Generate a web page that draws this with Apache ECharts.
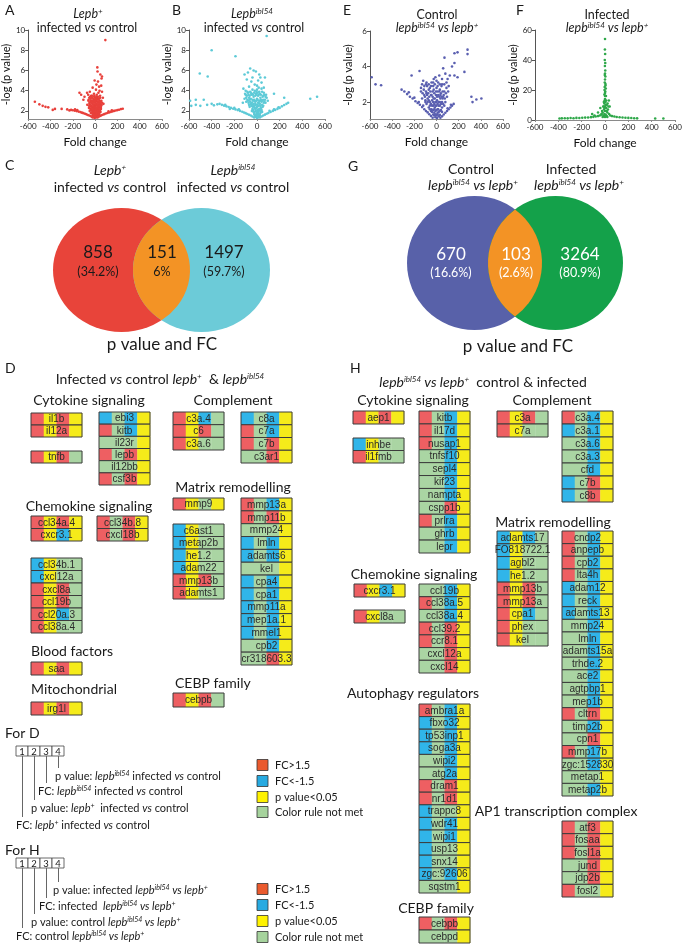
<!DOCTYPE html>
<html><head><meta charset="utf-8">
<script src="https://cdn.jsdelivr.net/npm/echarts@6/dist/echarts.min.js"></script>
<style>html,body{margin:0;padding:0;background:#fff}#c{width:685px;height:946px}</style>
</head><body><div id="c"></div><script>
// ---------------- DATA ----------------
const xTicks = [-600,-400,-200,0,200,400,600];
const yTicksAB = [2,4,6,8,10];
const yTicksE = [2,4,6];
const yTicksF = [0,20,40,60];

const volcanoA = [
[92,9.0],[20,6.3],[22,5.9],[47,5.6],[62,5.4],[58,5.2],[26,4.9],[-4,5.0],[12,4.6],[55,4.5],[36,4.4],[40,4.0],[-22,4.3],[8,4.1],[-47,3.9],[-72,3.8],[-140,3.8],[-125,3.6],[-62,3.6],[-95,3.4],[-105,3.1],[62,3.9],[30,3.8],[-10,3.7],[45,3.5],[-35,3.5],[70,3.3],[15,3.6],
[-40,3.2],[-30,3.0],[-20,2.9],[-10,3.1],[0,3.3],[10,3.0],[20,3.2],[30,2.8],[40,3.0],[50,2.9],[-50,2.8],[-45,2.6],[-35,2.5],[-25,2.7],[-15,2.4],[-5,2.6],[5,2.5],[15,2.7],[25,2.4],[35,2.6],[45,2.3],[55,2.5],[-55,2.3],[-40,2.2],[-30,2.1],[-20,2.0],[-10,2.2],[0,2.1],[10,2.0],[20,2.2],[30,2.0],[40,2.1],[-25,1.9],[-15,1.8],[-5,1.7],[5,1.8],[15,1.6],[25,1.7],[-10,1.5],[0,1.4],[10,1.5],[-5,1.3],[5,1.35],[0,2.8],[-8,3.4],[12,3.4],[-28,3.3],[28,3.4],[-60,3.0],[62,2.8],[-70,2.6],[75,2.7],
[-3,3.0],[3,2.3],[-18,2.6],[18,2.9],[-33,2.4],[33,2.2],[-48,2.0],[48,1.9],[-12,1.6],[12,1.9],[-2,1.9],[2,1.6],[-38,1.8],[38,1.7],[-52,2.5],[52,2.2],[-8,2.4],[8,2.7],
[-58,3.1],[-52,3.3],[-44,3.4],[-36,3.0],[-26,3.5],[-16,3.2],[-6,3.5],[6,3.2],[16,3.3],[26,3.1],[36,3.2],[46,3.3],[56,3.0],
[-50,2.7],[-42,2.9],[-32,2.8],[-22,3.0],[-12,2.8],[-2,2.9],[8,3.1],[18,2.6],[28,2.9],[38,2.8],[48,2.7],[58,2.6],
[-48,2.4],[-40,2.5],[-28,2.3],[-20,2.4],[-8,2.3],[2,2.4],[14,2.3],[22,2.5],[32,2.4],[42,2.5],[52,2.3],
[-36,2.1],[-26,2.2],[-14,2.1],[-4,2.0],[6,2.2],[16,2.1],[26,2.0],[36,2.2],[44,2.0],
[-30,1.8],[-20,1.85],[-8,1.9],[4,1.95],[14,1.85],[24,1.9],[34,1.8],
[-22,1.6],[-14,1.65],[-2,1.6],[8,1.65],[18,1.6],[28,1.55],[-12,1.45],[-4,1.5],[4,1.45],[14,1.4],
[-22,1.35],[-30,1.42],[-40,1.5],[-52,1.55],[-65,1.6],[-78,1.66],[-90,1.72],[-105,1.78],[-118,1.83],[-132,1.88],[-148,1.93],[-165,1.98],[-182,2.02],[-200,2.07],[-215,2.1],[-250,2.15],[-180,2.15],[-160,2.08],[-300,2.2],[-420,2.35],[-445,2.4],[-470,2.5],[-500,2.65],[-540,2.9],[-230,2.05],[-380,2.1],[-360,2.2],
[22,1.35],[32,1.42],[44,1.5],[56,1.56],[68,1.62],[82,1.68],[96,1.74],[110,1.8],[125,1.85],[140,1.9],[155,1.95],[170,2.0],[185,2.04],[200,2.08],[215,2.12],[232,2.18],[248,2.22],[120,1.95],[150,2.05]
];
const volcanoB = [
[85,9.4],[-400,8.0],[-190,7.4],[-505,5.7],[-435,5.4],[-60,6.2],[-30,6.0],[-80,5.8],[-10,5.9],[-110,5.6],[20,5.6],[-40,5.3],[30,5.3],[70,5.3],[-90,5.1],[10,5.0],[-50,4.9],[40,4.8],[-20,4.6],[0,4.5],[-70,4.4],[60,4.3],[-120,4.2],[150,3.7],[240,3.3],[470,3.2],[530,3.4],[-590,3.0],[-540,3.1],[-470,3.1],[-580,2.5],[-540,2.6],[-500,2.5],[-440,2.6],[-400,2.7],[-380,2.55],[-350,2.65],
[-100,4.0],[-80,3.8],[-60,3.9],[-40,4.1],[-20,4.0],[0,4.1],[20,3.9],[40,4.2],[60,3.8],[80,3.6],[-90,3.5],[-70,3.3],[-50,3.6],[-30,3.4],[-10,3.7],[10,3.5],[30,3.3],[50,3.4],[70,3.1],[-110,3.2],[-80,3.0],[-60,2.9],[-40,3.1],[-20,3.0],[0,3.2],[20,3.0],[40,2.9],[60,2.8],[-70,2.6],[-50,2.5],[-30,2.7],[-10,2.6],[10,2.8],[30,2.5],[50,2.4],[-40,2.2],[-20,2.3],[0,2.4],[20,2.2],[40,2.1],[-30,1.9],[-10,2.0],[10,1.9],[30,1.8],[-20,1.6],[0,1.7],[20,1.5],[-8,1.4],[8,1.35],[0,1.3],[-100,3.6],[95,3.0],[-125,2.8],[-5,3.9],[15,4.3],
[-105,3.7],[-95,3.3],[-85,3.9],[-75,3.6],[-65,3.5],[-55,3.8],[-45,3.7],[-35,3.6],[-25,3.8],[-15,3.5],[-5,3.6],[5,3.8],[15,3.6],[25,3.7],[35,3.6],[45,3.9],[55,3.5],[65,3.6],[75,3.4],[85,3.3],
[-95,2.9],[-85,3.1],[-75,2.8],[-65,3.1],[-55,3.2],[-45,2.8],[-35,3.0],[-25,3.1],[-15,2.9],[-5,3.0],[5,3.1],[15,2.8],[25,3.0],[35,3.1],[45,3.0],[55,3.1],[65,2.9],[75,2.8],
[-65,2.4],[-55,2.7],[-45,2.6],[-35,2.4],[-25,2.5],[-15,2.7],[-5,2.3],[5,2.6],[15,2.5],[25,2.7],[35,2.3],[45,2.6],[55,2.5],
[-45,2.0],[-35,2.1],[-25,1.9],[-15,2.2],[-5,1.8],[5,2.1],[15,2.0],[25,2.1],[35,2.0],[45,1.9],
[-25,1.7],[-15,1.5],[-5,1.6],[5,1.5],[15,1.7],[25,1.6],[-10,1.45],[10,1.45],
[-25,1.35],[-40,1.45],[-55,1.55],[-70,1.62],[-85,1.7],[-100,1.78],[-115,1.85],[-130,1.92],[-150,2.0],[-170,2.08],[-190,2.15],[-210,2.22],[-230,2.3],[-250,2.38],[-270,2.45],[-290,2.52],[-310,2.6],[-330,2.7],[-200,2.3],[-240,2.2],[-160,2.15],[-280,2.6],
[25,1.35],[40,1.45],[55,1.55],[70,1.63],[85,1.72],[100,1.8],[120,1.9],[140,2.0],[160,2.1],[180,2.2],[200,2.3],[220,2.45],[240,2.58],[260,2.7],[275,2.8],[150,2.15],[190,2.35],[110,2.0]
];
const volcanoE = [
[-585,3.4],[-550,3.0],[-500,2.95],[-225,3.5],[-153,3.75],[-120,3.2],[-95,3.0],[72,4.5],[162,4.75],[190,4.8],[280,4.95],[280,4.7],[162,4.2],[140,4.0],[252,3.7],[162,3.5],[190,3.4],[120,3.5],[100,3.3],[80,3.6],[60,3.9],[50,3.3],[315,2.3],[360,2.15],[405,2.2],[325,2.0],
[-60,2.8],[-45,3.1],[-30,2.9],[-15,3.0],[0,2.8],[15,3.1],[30,2.7],[45,2.9],[-50,2.4],[-35,2.6],[-20,2.5],[-5,2.4],[10,2.6],[25,2.3],[40,2.5],[55,2.6],[-40,2.1],[-25,2.2],[-10,2.0],[5,2.1],[20,2.0],[35,2.2],[-30,1.8],[-15,1.7],[0,1.8],[15,1.6],[30,1.8],[-20,1.4],[-5,1.3],[10,1.4],[-10,1.15],[5,1.1],[0,3.2],[-25,3.3],[25,3.5],[70,3.0],[-70,2.7],
[-90,2.5],[-110,2.4],[-130,2.2],[-80,2.2],[-100,2.0],[-60,2.0],[-70,1.7],[-45,1.6],[60,2.3],[80,2.0],[50,1.7],[70,2.6],[90,2.8],[-85,2.9],[-140,2.6],
[-140,2.8],[-125,2.5],[-115,2.7],[-105,2.3],[-95,2.6],[-85,2.4],[-75,2.5],[-65,2.3],[-55,2.6],[-45,2.4],[-35,2.3],[-25,2.7],[-15,2.2],[-5,2.6],[5,2.3],[15,2.4],[25,2.6],[35,2.4],[45,2.3],[55,2.2],[65,2.4],[75,2.2],[85,2.5],[95,2.3],[105,2.6],
[-100,2.1],[-90,1.9],[-80,2.0],[-70,2.1],[-60,1.8],[-50,1.9],[-40,1.8],[-30,2.0],[-20,1.9],[-10,1.8],[0,2.0],[10,1.9],[20,1.8],[30,2.0],[40,1.9],[50,2.0],[60,1.9],[70,1.8],
[-60,1.6],[-50,1.5],[-40,1.45],[-30,1.55],[-20,1.6],[-10,1.5],[0,1.55],[10,1.6],[20,1.45],[30,1.5],[40,1.55],[50,1.45],
[-30,1.3],[-20,1.25],[-10,1.3],[0,1.25],[10,1.3],[20,1.2],[30,1.28],
[-130,3.0],[-110,2.9],[-90,3.1],[-70,3.0],[-50,2.9],[-30,3.1],[-10,3.4],[10,2.9],[30,3.0],[50,3.0],[90,3.1],[110,2.9],
[-315,2.7],[-290,2.6],[-265,2.45],[-240,2.3],[-215,2.2],[-190,2.05],[-170,1.95],[-150,1.85],[-130,1.72],[-110,1.6],[-95,1.5],[-80,1.42],[-65,1.32],[-50,1.22],[-35,1.12],[-250,2.55],[-200,2.25],[-160,2.0],[-120,1.8],
[35,1.12],[50,1.2],[65,1.3],[80,1.4],[95,1.5],[110,1.6],[125,1.7],[140,1.8],[155,1.9],[100,1.65],[130,1.85]
];
const volcanoF = [
[0,54],[-2,40],[2,38],[-1,36],[3,29],[0,27],[4,24],[-3,22],[6,21],[2,19],[-5,17],[8,16],[0,14],[4,12],[-6,11],[30,9],[22,11],[-12,9],[10,8],[-8,7],[0,6],[15,6],[-20,5],[20,5],[-30,4],[35,4],[-5,4],[5,3.5],[0,9],[-3,13],
[-10,3],[10,3],[-15,2.5],[15,2.5],[-20,2],[20,2],[0,2],[-5,8],[5,10],[0,18],[-2,30],[2,33],[1,44],[-1,47],
[-25,6],[25,7],[-15,9],[15,10],[-10,12],[10,13],[0,16],[-4,20],[4,23],[0,31],[-2,25],[33,13],[40,9],
[-390,1],[-370,1.1],[-345,1.2],[-320,1.1],[-295,1.3],[-270,1.2],[-245,1.4],[-220,1.3],[-195,1.5],[-170,1.6],[-145,1.7],[-120,1.9],[-100,2.1],[-80,2.3],[-60,2.6],[-45,3.0],[-30,3.6],
[45,3.0],[60,2.6],[80,2.3],[100,2.0],[125,1.8],[150,1.7],[175,1.5],[200,1.4],[225,1.3],[250,1.2],[275,1.1],[430,1],[500,1],
[-90,3],[-60,5],[-40,8],[-110,4]
];

const vennC_counts = ['858','151','1497'];
const vennC_pct = ['(34.2%)','6%','(59.7%)'];
const vennG_counts = ['670','103','3264'];
const vennG_pct = ['(16.6%)','(2.6%)','(80.9%)'];

// gene tiles: [name, colour code for cells 1-4]  R: FC>1.5, B: FC<-1.5, Y: p<0.05, G: rule not met
const D_cyt_a = [['il1b','RYRY'],['il12a','RYRY']];
const D_cyt_b = [['tnfb','RYRG']];
const D_cyt_c = [['ebi3','BGBY'],['kitb','RGBY'],['il23r','GGGY'],['lepb','RGRY'],['il12bb','GGGY'],['csf3b','RGRY']];
const D_comp_a = [['c3a.4','RYBG'],['c6','RYRG'],['c3a.6','RYGG']];
const D_comp_b = [['c8a','BGBY'],['c7a','RGBY'],['c7b','RGRY'],['c3ar1','GGRY']];
const D_mat_a = [['mmp9','RYGY']];
const D_mat_b = [['c6ast1','BYGG'],['metap2b','BYGG'],['he1.2','BYGG'],['adam22','BYGG'],['mmp13b','RYRG'],['adamts1','RYGG']];
const D_mat_c = [['mmp13a','RGBY'],['mmp11b','RGRY'],['mmp24','GGGY'],['lmln','BGBY'],['adamts6','BGBY'],['kel','GGGY'],['cpa4','BGBY'],['cpa1','BGBY'],['mmp11a','BGBY'],['mep1a.1','BGBY'],['mmel1','BGBY'],['cpb2','GGBY'],['cr318603.3','GGRY']];
const D_chem_a = [['ccl34a.4','RYRY'],['cxcr3.1','RYBY']];
const D_chem_b = [['ccl34b.8','RGRY'],['cxcl18b','RGRY']];
const D_chem_c = [['ccl34b.1','BYGG'],['cxcl12a','BYGG'],['cxcl8a','RYRG'],['ccl19b','RYRG'],['ccl20a.3','RYBG'],['ccl38a.4','RYGG']];
const D_blood = [['saa','RYRY']];
const D_mito = [['irg1l','RYRY']];
const D_cebp = [['cebpb','RYRG']];

const H_cyt_a = [['aep1','RYRY']];
const H_cyt_b = [['inhbe','BYGG'],['il1fmb','RYGG']];
const H_cyt_c = [['kitb','RGBY'],['il17d','RGBY'],['nusap1','RGBY'],['tnfsf10','GGBY'],['sepl4','GGBY'],['kif23','GGBY'],['nampta','GGBY'],['cspp1b','GGRY'],['prlra','RGBY'],['ghrb','GGBY'],['lepr','GGBY']];
const H_comp_a = [['c3a','RYRG'],['c7a','RYGG']];
const H_comp_b = [['c3a.4','RGBY'],['c3a.1','BGBY'],['c3a.6','GGBY'],['c3a.3','GGBY'],['cfd','GGBY'],['c7b','BGRY'],['c8b','BGRY']];
const H_mat_a = [['adamts17','BYBG'],['FO818722.1','BYGG'],['agbl2','BYGG'],['he1.2','BYGG'],['mmp13b','RYRG'],['mmp13a','RYRG'],['cpa1','RYBG'],['phex','RYGG'],['kel','RYGG']];
const H_mat_b = [['cndp2','RGBY'],['anpepb','RGBY'],['cpb2','RGBY'],['lta4h','RGBY'],['adam12','BGBY'],['reck','BGBY'],['adamts13','BGBY'],['mmp24','GGBY'],['lmln','GGBY'],['adamts15a','GGBY'],['trhde.2','GGBY'],['ace2','GGBY'],['agtpbp1','GGBY'],['mep1b','GGBY'],['cltrn','RGRY'],['timp2b','GGBY'],['cpn1','GGRY'],['mmp17b','RGBY'],['zgc:152830','GGBY'],['metap1','GGGY'],['metap2b','GGBY']];
const H_chem_a = [['cxcr3.1','RYBY']];
const H_chem_b = [['cxcl8a','RYGG']];
const H_chem_c = [['ccl19b','GGBY'],['ccl38a.5','RGBY'],['ccl38a.4','GGBY'],['ccl39.2','RGRY'],['ccr8.1','RGRY'],['cxcl12a','GGRY'],['cxcl14','GGRY']];
const H_auto = [['ambra1a','RGBY'],['fbxo32','BGBY'],['tp53inp1','BGBY'],['soga3a','BGBY'],['wipi2','GGBY'],['atg2a','GGBY'],['dram1','RGRY'],['nr1d1','RGRY'],['trappc8','BGGY'],['wdr41','BGBY'],['wipi1','BGBY'],['usp13','BGGY'],['snx14','BGGY'],['zgc:92606','BGBY'],['sqstm1','GGGY']];
const H_cebp = [['cebpb','RGRY'],['cebpd','GGGY']];
const H_ap1 = [['atf3','RGRY'],['fosaa','RGRY'],['fosl1a','RGRY'],['jund','GGRY'],['jdp2b','GGRY'],['fosl2','RGGY']];

const legendItems = ['FC>1.5','FC<-1.5','p value<0.05','Color rule not met'];

// ---------------- STYLE / LAYOUT ----------------
const FONT = 'Lato, "Open Sans", "Noto Sans", sans-serif';
const GENEFONT = '"Liberation Sans Narrow", "Liberation Sans", Arial, sans-serif';
const TILE = {R:'#ee5f62', B:'#30b5e9', Y:'#f5eb1a', G:'#aad5a3'};
const LEG = ['#ea5a2e','#27aae1','#fff200','#a6d39d'];

const grids=[], xAxes=[], yAxes=[], series=[], graphic=[];

function rich(size){
  return {
    i:{fontStyle:'italic', fontSize:size, fontFamily:FONT, fill:'#1a1a1a'},
    s:{fontStyle:'italic', fontSize:Math.round(size*0.6), fontFamily:FONT, verticalAlign:'top', lineHeight:Math.round(size*0.6), fill:'#1a1a1a'},
    n:{fontSize:size, fontFamily:FONT, fill:'#1a1a1a'}
  };
}
function T(x,y,text,size,opt){
  opt = opt||{};
  return {type:'text', x:x, y:y, silent:true, z:10, style:{text:text, fontSize:size, fontFamily:FONT, fill:opt.fill||'#1a1a1a',
    textAlign:opt.align||'center', textVerticalAlign:'middle', verticalAlign:'middle', rich:rich(size)}};
}

// ---------------- VOLCANO PLOTS ----------------
function volcano(g, data, color, ymin, ymax, yticks){
  const gi = grids.length;
  grids.push({left:g[0], top:g[1], width:g[2], height:g[3]});
  xAxes.push({gridIndex:gi, type:'value', min:-600, max:600, interval:200,
    axisLine:{onZero:false, lineStyle:{color:'#8a8a8a', width:1}}, axisTick:{show:true, length:2, lineStyle:{color:'#8a8a8a'}},
    axisLabel:{fontSize:8, margin:3, color:'#222', fontFamily:FONT}, splitLine:{show:false},
    name:'Fold change', nameLocation:'middle', nameGap:17, nameTextStyle:{fontSize:12, fontFamily:FONT, color:'#111'}});
  yAxes.push({gridIndex:gi, type:'value', min:ymin, max:ymax,
    axisLine:{show:true, onZero:false, lineStyle:{color:'#555', width:1}}, axisTick:{show:true, length:3, customValues:yticks, lineStyle:{color:'#555'}},
    axisLabel:{customValues:yticks, fontSize:8, margin:3, color:'#222', fontFamily:FONT}, splitLine:{show:false},
    name:'-log (p value)', nameLocation:'middle', nameGap:16, nameRotate:90, nameTextStyle:{fontSize:11, fontFamily:FONT, color:'#111'}});
  series.push({type:'scatter', xAxisIndex:gi, yAxisIndex:gi, data:data, symbolSize:2.6, itemStyle:{color:color, opacity:1}, silent:true});
}
volcano([28,30,134,89], volcanoA, '#e8403b', 1.2, 10, yTicksAB);
volcano([189,30,136,89], volcanoB, '#5dcad7', 1.2, 10, yTicksAB);
volcano([370,31,133,88], volcanoE, '#5a5fb0', 1.05, 6, yTicksE);
volcano([535,30,145,90], volcanoF, '#2fa84a', 0, 60, yTicksF);

// ---------------- VENN ----------------
function ell(cx,cy,rx,ry){
  return 'M'+(cx-rx)+','+cy+' A'+rx+','+ry+' 0 1,0 '+(cx+rx)+','+cy+' A'+rx+','+ry+' 0 1,0 '+(cx-rx)+','+cy+' Z';
}
function lens(x1,x2,cy,rx,ry){
  const xm=(x1+x2)/2, dx=xm-x1, yo=ry*Math.sqrt(1-dx*dx/(rx*rx));
  return 'M'+xm+','+(cy-yo)+' A'+rx+','+ry+' 0 0,1 '+xm+','+(cy+yo)+' A'+rx+','+ry+' 0 0,1 '+xm+','+(cy-yo)+' Z';
}
function venn(counts, pcts, L, cols, txtCol){
  series.push({type:'custom', coordinateSystem:'none', silent:true, data:[0], renderItem:function(){
    const ch=[
      {type:'path', shape:{pathData:ell(L.x1,L.cy,L.rx,L.ry)}, style:{fill:cols[0]}},
      {type:'path', shape:{pathData:ell(L.x2,L.cy,L.rx,L.ry)}, style:{fill:cols[1]}},
      {type:'path', shape:{pathData:lens(L.x1,L.x2,L.cy,L.rx,L.ry)}, style:{fill:cols[2]}}
    ];
    L.tx.forEach(function(tx,k){
      ch.push({type:'text', x:tx, y:L.ty1, style:{text:counts[k], fontSize:17, fontFamily:FONT, fill:txtCol, textAlign:'center', textVerticalAlign:'middle', verticalAlign:'middle'}});
      ch.push({type:'text', x:tx, y:L.ty2, style:{text:pcts[k], fontSize:12.5, fontFamily:FONT, fill:txtCol, textAlign:'center', textVerticalAlign:'middle', verticalAlign:'middle'}});
    });
    return {type:'group', children:ch};
  }});
}
venn(vennC_counts, vennC_pct, {x1:121.5,x2:201.5,cy:270,rx:68.5,ry:62,tx:[98,162,224],ty1:253,ty2:272}, ['#e8443a','#6ccbd8','#f39325'], '#1a1a1a');
venn(vennG_counts, vennG_pct, {x1:474.5,x2:555.5,cy:263,rx:67.5,ry:67,tx:[451,516,580],ty1:255,ty2:273}, ['#5861a9','#14a14a','#f39325'], '#ffffff');

// ---------------- GENE TILE BLOCKS ----------------
function makeTile(rows){
  return function(params, api){
    const r = rows[params.dataIndex];
    const a = api.coord([0, params.dataIndex]);
    const b = api.coord([4, params.dataIndex]);
    const h = api.size([0,1])[1];
    const w = (b[0]-a[0])/4;
    const y0 = a[1]-h/2;
    const ch = [];
    for (let k=0;k<4;k++) ch.push({type:'rect', shape:{x:a[0]+k*w, y:y0, width:w+0.3, height:h}, style:{fill:TILE[r[1][k]]}});
    ch.push({type:'rect', shape:{x:a[0], y:y0, width:4*w, height:h}, style:{fill:'none', stroke:'#3c3c3c', lineWidth:1}});
    ch.push({type:'text', x:a[0]+2*w, y:a[1]+0.5, style:{text:r[0], textAlign:'center', textVerticalAlign:'middle', verticalAlign:'middle', fontSize:10, fontFamily:GENEFONT, fill:'#2b2b2b'}});
    return {type:'group', children:ch};
  };
}
const tileBlocks = [
  [D_cyt_a,31,413,437],[D_cyt_b,31,451,463],[D_cyt_c,99,412,485],
  [D_comp_a,173,412,450],[D_comp_b,241,412,463],
  [D_mat_a,173,498,510],[D_mat_b,173,524,599],[D_mat_c,241,498,665],
  [D_chem_a,31,516,541],[D_chem_b,97,516,541],[D_chem_c,31,558,633],
  [D_blood,31,662,675],[D_mito,31,702,715],[D_cebp,173,693,707],
  [H_cyt_a,353,411,424],[H_cyt_b,353,438,463],[H_cyt_c,419,411,553],
  [H_comp_a,497,411,437],[H_comp_b,562,411,502],
  [H_mat_a,497,531,646],[H_mat_b,562,531,796],
  [H_chem_a,354,584,597],[H_chem_b,354,610,623],[H_chem_c,419,584,673],
  [H_auto,419,704,893],[H_cebp,419,917,943],[H_ap1,562,821,897]
];
tileBlocks.forEach(function(b){
  const gi = grids.length;
  grids.push({left:b[1], top:b[2], width:51, height:b[3]-b[2]});
  xAxes.push({gridIndex:gi, type:'value', min:0, max:4, show:false});
  yAxes.push({gridIndex:gi, type:'category', data:b[0].map(function(r){return r[0];}), inverse:true, show:false});
  series.push({type:'custom', xAxisIndex:gi, yAxisIndex:gi, clip:false, silent:true,
    data:b[0].map(function(r,i){return [0,i];}), renderItem:makeTile(b[0])});
});

// ---------------- TEXT ----------------
const L = 14;
graphic.push(T(5,10,'A',L,{align:'left'}), T(172,10,'B',L,{align:'left'}), T(343,10,'E',L,{align:'left'}), T(516,10,'F',L,{align:'left'}));
graphic.push(T(88,14,'{i|Lepb}{s|+}',12.5), T(87,28,'infected {i|vs} control',12.5));
graphic.push(T(252,14,'{i|Lepb}{s|ibl54}',12.5), T(254,28,'infected {i|vs} control',12.5));
graphic.push(T(437,15,'Control',12.5), T(437,28,'{i|lepb}{s|ibl54}{i| vs lepb}{s|+}',12.5));
graphic.push(T(607,15,'Infected',12.5), T(607,28,'{i|lepb}{s|ibl54}{i| vs lepb}{s|+}',12.5));

graphic.push(T(5,165,'C',L,{align:'left'}), T(348,166,'G',L,{align:'left'}));
graphic.push(T(110,170,'{i|Lepb}{s|+}',14), T(110,187,'infected {i|vs} control',14));
graphic.push(T(233,170,'{i|Lepb}{s|ibl54}',14), T(233,187,'infected {i|vs} control',14));
graphic.push(T(471,169,'Control',14), T(473,185,'{i|lepb}{s|ibl54}{i| vs lepb}{s|+}',14));
graphic.push(T(571,169,'Infected',14), T(579,185,'{i|lepb}{s|ibl54}{i| vs lepb}{s|+}',14));
graphic.push(T(162,345,'p value and FC',17), T(518,347,'p value and FC',17));

graphic.push(T(5,368,'D',L,{align:'left'}), T(350,368,'H',L,{align:'left'}));
graphic.push(T(160,379,'Infected {i|vs} control {i|lepb}{s|+}  & {i|lepb}{s|ibl54}',14));
graphic.push(T(483,382,'{i|lepb}{s|ibl54}{i| vs lepb}{s|+}  control & infected',14));
const HS = 14;
graphic.push(T(89,400,'Cytokine signaling',HS), T(233,400,'Complement',HS), T(233,487,'Matrix remodelling',HS),
  T(89,506,'Chemokine signaling',HS), T(31,651,'Blood factors',HS,{align:'left'}), T(31,689,'Mitochondrial',HS,{align:'left'}),
  T(175,683,'CEBP family',HS,{align:'left'}));
graphic.push(T(413,400,'Cytokine signaling',HS), T(552,400,'Complement',HS), T(553,522,'Matrix remodelling',HS),
  T(414,574,'Chemokine signaling',HS), T(413,693,'Autophagy regulators',HS), T(436,908,'CEBP family',HS),
  T(556,811,'AP1 transcription complex',HS));

// ---------------- LEGENDS ----------------
function keyBox(y0, texts, ys, xs, title, ty){
  graphic.push(T(5,ty,title,14,{align:'left'}));
  for (let k=0;k<4;k++){
    graphic.push({type:'rect', silent:true, shape:{x:16+k*12, y:y0, width:12, height:10}, style:{fill:'#fff', stroke:'#444', lineWidth:0.8}});
    graphic.push(T(22+k*12, y0+5.5, String(k+1), 9.5));
  }
  const cx=[22,34,46,58];
  for (let k=3;k>=0;k--){
    graphic.push({type:'line', silent:true, shape:{x1:cx[k]+0.5, y1:y0+10, x2:cx[k]+0.5, y2:ys[k]-8}, style:{stroke:'#666', lineWidth:1}});
    graphic.push(T(xs[k], ys[k], texts[k], 11, {align:'left'}));
  }
}
keyBox(746, ['FC: {i|lepb}{s|+} infected {i|vs} control','p value: {i|lepb}{s|+}  infected {i|vs} control','FC: {i|lepb}{s|ibl54} infected {i|vs} control','p value: {i|lepb}{s|ibl54} infected {i|vs} control'],
  [825,808,791,776], [16,31,38,55], 'For D', 733);
keyBox(858, ['FC: control {i|lepb}{s|ibl54}{i| vs lepb}{s|+}','p value: control {i|lepb}{s|ibl54}{i| vs lepb}{s|+}','FC: infected  {i|lepb}{s|ibl54}{i| vs lepb}{s|+}','p value: infected {i|lepb}{s|ibl54}{i| vs lepb}{s|+}'],
  [936,922,906,890], [16,31,39,53], 'For H', 850);
function colorLegend(ys){
  legendItems.forEach(function(t,k){
    graphic.push({type:'rect', silent:true, shape:{x:257, y:ys[k]-5.5, width:11, height:11}, style:{fill:LEG[k], stroke:'#333', lineWidth:0.8}});
    graphic.push(T(275, ys[k], t, 11, {align:'left'}));
  });
}
colorLegend([765,781,797,812]);
colorLegend([889,905,921,937]);

const chart = echarts.init(document.getElementById('c'), null, {renderer:'canvas'});
chart.setOption({
  animation:false, backgroundColor:'#fff',
  textStyle:{fontFamily:FONT},
  grid:grids, xAxis:xAxes, yAxis:yAxes, series:series, graphic:graphic
});
</script></body></html>
